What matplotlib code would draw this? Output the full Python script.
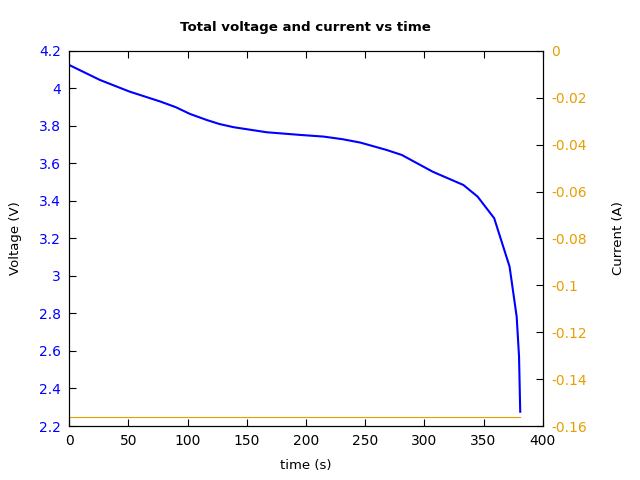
import matplotlib
matplotlib.use("Agg")
import matplotlib.pyplot as plt
from matplotlib.ticker import FormatStrFormatter, MultipleLocator

# 读图得到的数据
time_s = [0, 26, 51, 77, 90, 102, 116, 127, 139, 167, 195, 215, 231, 246,
          268, 281, 307, 333, 345, 359, 372, 378, 380, 381]
voltage = [4.125, 4.045, 3.983, 3.93, 3.90, 3.864, 3.832, 3.81, 3.793, 3.766,
           3.752, 3.743, 3.729, 3.711, 3.672, 3.645, 3.556, 3.485, 3.423,
           3.308, 3.05, 2.783, 2.57, 2.276]
cur_time = [0, 381]
current = [-0.156, -0.156]

orange = "#e69f00"

fig = plt.figure(figsize=(6.4, 4.8), dpi=100)
ax = fig.add_axes([0.108, 0.1125, 0.74, 0.7815])
ax2 = ax.twinx()

ax2.plot(cur_time, current, color=orange, lw=0.8)
ax.plot(time_s, voltage, color="blue", lw=1.5)
ax.set_zorder(ax2.get_zorder() + 1)
ax.patch.set_visible(False)

ax.set_xlim(0, 400)
ax.set_ylim(2.2, 4.2)
ax2.set_ylim(-0.16, 0)

ax.xaxis.set_major_locator(MultipleLocator(50))
ax.yaxis.set_major_locator(MultipleLocator(0.2))
ax2.yaxis.set_major_locator(MultipleLocator(0.02))
ax.yaxis.set_major_formatter(FormatStrFormatter("%g"))
ax2.yaxis.set_major_formatter(FormatStrFormatter("%g"))

ax.tick_params(axis="x", direction="in", top=True, length=5, pad=6, labelsize=10)
ax.tick_params(axis="y", direction="in", right=False, length=5, pad=6,
               labelsize=10, labelcolor="blue")
ax2.tick_params(axis="y", direction="in", length=5, pad=6, labelsize=10,
                labelcolor=orange)

ax.set_xlabel("time (s)", labelpad=8, fontsize=9.5)
ax.set_ylabel("Voltage (V)", labelpad=12, fontsize=9.5)
ax2.set_ylabel("Current (A)", labelpad=18, fontsize=9.5)
ax.set_title("Total voltage and current vs time", fontweight="bold",
             fontsize=9.6, pad=14)

fig.savefig("out.png", dpi=100)
